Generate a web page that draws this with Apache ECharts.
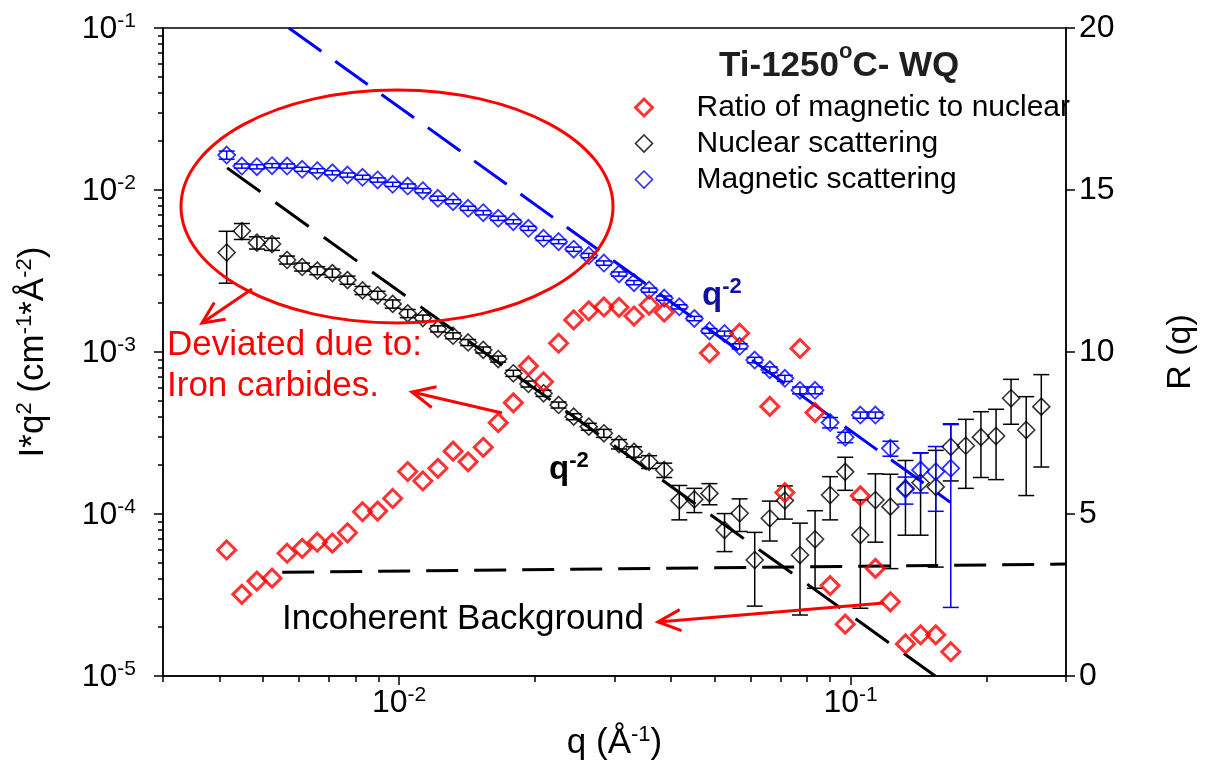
<!DOCTYPE html>
<html>
<head>
<meta charset="utf-8">
<script src="https://cdn.jsdelivr.net/npm/echarts@6/dist/echarts.min.js"></script>
<style>
  html, body { margin: 0; padding: 0; background: #fff; }
  #chart { width: 1207px; height: 762px; }
</style>
</head>
<body>
<div id="chart"></div>
<script>
// SANS data, Ti-1250C WQ: nuclear + magnetic I*q^2 (left, log) and their ratio R(q) (right)

// shared q grid (Å^-1)
const qValues = [0.004151, 0.004485, 0.004843, 0.005231, 0.005649, 0.006101, 0.006590, 0.007116, 0.007686, 0.008300,
  0.008965, 0.009679, 0.01045, 0.01129, 0.01219, 0.01317, 0.01422, 0.01536, 0.01658, 0.01791,
  0.01934, 0.02089, 0.02256, 0.02436, 0.02631, 0.02842, 0.03069, 0.03314, 0.03579, 0.03866,
  0.04175, 0.04508, 0.04869, 0.05258, 0.05679, 0.06133, 0.06623, 0.07153, 0.07725, 0.08343,
  0.09010, 0.09729, 0.1051, 0.1135, 0.1225, 0.1323, 0.1429, 0.1544, 0.1667, 0.1800,
  0.1944, 0.2100, 0.2267, 0.2449, 0.2645];

// ratio of magnetic to nuclear (right axis)
const ratioValues = [3.89, 2.52, 2.93, 3.02, 3.79, 3.94, 4.13, 4.10, 4.42, 5.07,
  5.09, 5.48, 6.31, 6.02, 6.41, 6.94, 6.61, 7.06, 7.82, 8.43,
  9.57, 9.08, 10.27, 10.99, 11.27, 11.39, 11.38, 11.11, 11.45, 11.23,
  null, null, 9.97, null, 10.58, null, 8.32, 5.66, 10.11, 8.13,
  2.79, 1.60, 5.56, 3.32, 2.29, 0.99, 1.27, 1.27, 0.75];

// nuclear scattering I*q^2 and its error
const nuclearValues = [4.11e-3, 5.58e-3, 4.73e-3, 4.64e-3, 3.70e-3, 3.35e-3, 3.18e-3, 3.07e-3, 2.78e-3, 2.40e-3,
  2.24e-3, 1.98e-3, 1.73e-3, 1.62e-3, 1.39e-3, 1.26e-3, 1.145e-3, 1.03e-3, 9.05e-4, 7.39e-4,
  6.35e-4, 5.56e-4, 4.71e-4, 3.99e-4, 3.46e-4, 3.15e-4, 2.70e-4, 2.42e-4, 2.10e-4, 1.87e-4,
  1.21e-4, 1.23e-4, 1.34e-4, 7.96e-5, 1.01e-4, 5.20e-5, 9.41e-5, 1.21e-4, 5.58e-5, 6.98e-5,
  1.31e-4, 1.82e-4, 7.42e-5, 1.22e-4, 1.11e-4, 1.44e-4, 1.56e-4, 1.47e-4, 2.60e-4, 2.64e-4,
  2.98e-4, 3.03e-4, 5.18e-4, 3.30e-4, 4.60e-4];
const nuclearErrors = [1.45e-3, 6.3e-4, 4.1e-4, 4.0e-4, 2.1e-4, 1.9e-4, 1.8e-4, 1.8e-4, 1.6e-4, 1.4e-4,
  1.3e-4, 1.15e-4, 1.0e-4, 7e-5, 6e-5, 5.4e-5, 4.9e-5, 4.4e-5, 3.9e-5, 3.2e-5,
  2.7e-5, 2.4e-5, 2.0e-5, 1.7e-5, 1.7e-5, 1.8e-5, 1.8e-5, 1.8e-5, 1.9e-5, 1.9e-5,
  2.9e-5, 2.1e-5, 2.0e-5, 2.1e-5, 2.3e-5, 2.5e-5, 2.6e-5, 2.8e-5, 3.2e-5, 3.5e-5,
  3.9e-5, 4.2e-5, 4.8e-5, 5.5e-5, 6.5e-5, 7.0e-5, 8.2e-5, 1.0e-4, 1.0e-4, 1.2e-4,
  1.3e-4, 1.4e-4, 1.6e-4, 2.0e-4, 2.65e-4];

// magnetic scattering I*q^2 and its error
const magneticValues = [1.644e-2, 1.406e-2, 1.392e-2, 1.413e-2, 1.406e-2, 1.342e-2, 1.315e-2, 1.278e-2, 1.237e-2, 1.198e-2,
  1.153e-2, 1.084e-2, 1.058e-2, 9.90e-3, 8.89e-3, 8.47e-3, 7.71e-3, 7.24e-3, 6.69e-3, 6.37e-3,
  5.80e-3, 5.03e-3, 4.80e-3, 4.31e-3, 3.94e-3, 3.54e-3, 3.03e-3, 2.68e-3, 2.41e-3, 2.15e-3,
  1.90e-3, 1.61e-3, 1.35e-3, 1.30e-3, 1.084e-3, 8.92e-4, 7.77e-4, 6.88e-4, 5.80e-4, 5.80e-4,
  3.67e-4, 2.975e-4, 4.08e-4, 4.08e-4, 2.544e-4, 1.421e-4, 1.869e-4, 1.824e-4, 1.915e-4];
const magneticErrors = [9.5e-4, 4.2e-4, 4.2e-4, 4.2e-4, 4.2e-4, 4.0e-4, 3.9e-4, 3.8e-4, 3.7e-4, 3.6e-4,
  3.5e-4, 3.3e-4, 3.2e-4, 3.0e-4, 2.7e-4, 2.5e-4, 2.3e-4, 2.2e-4, 2.0e-4, 1.9e-4,
  1.7e-4, 1.5e-4, 1.4e-4, 1.3e-4, 1.2e-4, 1.1e-4, 9e-5, 8e-5, 7e-5, 6.5e-5,
  5.7e-5, 5e-5, 4.5e-5, 4.5e-5, 4e-5, 3.5e-5, 3.2e-5, 3e-5, 2.8e-5, 2.8e-5,
  2.7e-5, 2.2e-5, 1.8e-5, 1.8e-5, 2.7e-5, 2.7e-5, 5.2e-5, 7.85e-5, 1.65e-4];

// guide lines: q^-2 slopes and incoherent background
const magneticSlope = [[0.0057, 0.1], [0.1664, 1.18e-4]];
const nuclearSlope = [[0.00416, 1.37e-2], [0.154, 1.0e-5]];
const backgroundLine = [[0.00551, 4.37e-5], [0.3, 4.91e-5]];

// ticks
const xMajorTicks = [0.01, 0.1];
const xMinorTicks = [0.003, 0.004, 0.005, 0.006, 0.007, 0.008, 0.009,
  0.02, 0.03, 0.04, 0.05, 0.06, 0.07, 0.08, 0.09, 0.2, 0.3];
const yMajorTicks = [1e-5, 1e-4, 1e-3, 1e-2, 1e-1];
const yMinorTicks = [2e-5, 3e-5, 4e-5, 5e-5, 6e-5, 7e-5, 8e-5, 9e-5,
  2e-4, 3e-4, 4e-4, 5e-4, 6e-4, 7e-4, 8e-4, 9e-4,
  2e-3, 3e-3, 4e-3, 5e-3, 6e-3, 7e-3, 8e-3, 9e-3,
  2e-2, 3e-2, 4e-2, 5e-2, 6e-2, 7e-2, 8e-2, 9e-2];

const FONT = '"Liberation Sans", Arial, sans-serif';

const ratioData = [], nuclearData = [], magneticData = [], nuclearBars = [], magneticBars = [];
qValues.forEach((q, i) => {
    if (ratioValues[i] != null) ratioData.push([q, ratioValues[i]]);
    if (nuclearValues[i] != null) {
        nuclearData.push([q, nuclearValues[i]]);
        nuclearBars.push([q, nuclearValues[i] - nuclearErrors[i], nuclearValues[i] + nuclearErrors[i]]);
    }
    if (magneticValues[i] != null) {
        magneticData.push([q, magneticValues[i]]);
        magneticBars.push([q, magneticValues[i] - magneticErrors[i], magneticValues[i] + magneticErrors[i]]);
    }
});

function errorBars(color) {
    return function (params, api) {
        const top = api.coord([api.value(0), api.value(2)]);
        const bot = api.coord([api.value(0), api.value(1)]);
        const half = 8;
        const style = { stroke: color, lineWidth: 1.5, fill: null };
        return {
            type: 'group',
            children: [
                { type: 'line', shape: { x1: top[0], y1: top[1], x2: bot[0], y2: bot[1] }, style: style },
                { type: 'line', shape: { x1: top[0] - half, y1: top[1], x2: top[0] + half, y2: top[1] }, style: style },
                { type: 'line', shape: { x1: bot[0] - half, y1: bot[1], x2: bot[0] + half, y2: bot[1] }, style: style }
            ]
        };
    };
}

// rich styles: base text + raised superscript
function supRich(base, sup, raise, extra) {
    return {
        b: Object.assign({ fontSize: base, fontFamily: FONT, verticalAlign: 'bottom' }, extra),
        s: Object.assign({ fontSize: sup, fontFamily: FONT, verticalAlign: 'bottom', padding: [0, 0, raise, 0] }, extra)
    };
}

const powerLabel = v => '{b|10}{s|' + Math.round(Math.log10(v)) + '}';
const tickRich = supRich(32, 21, 13, { color: '#000' });
const nameRich = supRich(35, 22, 15, { color: '#000' });
const axisLineStyle = { color: '#000', width: 1.5 };

const chart = echarts.init(document.getElementById('chart'));

const option = {
    animation: false,
    grid: {
        left: 163, right: 141, top: 28, bottom: 86,
        show: true, borderColor: '#000', borderWidth: 1.5,
        outerBoundsMode: 'none'
    },
    legend: {
        orient: 'vertical', left: 634, top: 92, padding: 0,
        itemWidth: 17, itemHeight: 17, itemGap: 5,
        selectedMode: false,
        textStyle: { fontSize: 30, fontFamily: FONT, color: '#000', lineHeight: 31, padding: [0, 0, 0, 39] },
        data: [
            { name: 'Ratio of magnetic to nuclear', icon: 'diamond', itemStyle: { color: 'transparent', borderColor: '#ff0000', borderWidth: 3 } },
            { name: 'Nuclear scattering', icon: 'diamond', itemStyle: { color: 'transparent', borderColor: '#000', borderWidth: 1.6 } },
            { name: 'Magnetic scattering', icon: 'diamond', itemStyle: { color: 'transparent', borderColor: '#0000ff', borderWidth: 1.6 } }
        ]
    },
    xAxis: [
        {
            type: 'log', logBase: 10, min: 0.003, max: 0.3, position: 'bottom',
            axisLine: { lineStyle: axisLineStyle },
            axisTick: { customValues: xMajorTicks, length: 9, lineStyle: axisLineStyle },
            axisLabel: { customValues: xMajorTicks, margin: 9, formatter: powerLabel, rich: tickRich },
            splitLine: { show: false },
            name: '{b|q (Å}{s|-1}{b|)}', nameLocation: 'middle', nameGap: 44,
            nameTextStyle: { rich: nameRich }
        },
        {
            type: 'log', logBase: 10, min: 0.003, max: 0.3, position: 'bottom',
            axisLine: { show: false },
            axisTick: { customValues: xMinorTicks, length: 6, lineStyle: axisLineStyle },
            axisLabel: { show: false },
            splitLine: { show: false }
        }
    ],
    yAxis: [
        {
            type: 'log', logBase: 10, min: 1e-5, max: 1e-1, position: 'left',
            axisLine: { show: true, lineStyle: axisLineStyle },
            axisTick: { show: true, customValues: yMajorTicks, length: 9, lineStyle: axisLineStyle },
            axisLabel: { customValues: yMajorTicks, margin: 27, formatter: powerLabel, rich: tickRich },
            splitLine: { show: false },
            name: '{b|I*q}{s|2}{b| (cm}{s|-1}{b|*Å}{s|-2}{b|)}',
            nameLocation: 'middle', nameRotate: 90, nameGap: 112,
            nameTextStyle: { rich: nameRich }
        },
        {
            type: 'log', logBase: 10, min: 1e-5, max: 1e-1, position: 'left',
            axisLine: { show: false },
            axisTick: { show: true, customValues: yMinorTicks, length: 5, lineStyle: axisLineStyle },
            axisLabel: { show: false },
            splitLine: { show: false }
        },
        {
            type: 'value', min: 0, max: 20, interval: 5, position: 'right',
            axisLine: { show: true, lineStyle: axisLineStyle },
            axisTick: { show: true, length: 9, lineStyle: axisLineStyle },
            axisLabel: { margin: 13, fontSize: 32, fontFamily: FONT, color: '#000' },
            splitLine: { show: false },
            name: 'R (q)', nameLocation: 'middle', nameRotate: 90, nameGap: 98,
            nameTextStyle: { fontSize: 34, fontFamily: FONT, color: '#000' }
        }
    ],
    series: [
        {
            type: 'custom', renderItem: errorBars('#000'), data: nuclearBars,
            encode: { x: 0, y: [1, 2] }, clip: true, silent: true, z: 2
        },
        {
            type: 'custom', renderItem: errorBars('#0000ff'), data: magneticBars,
            encode: { x: 0, y: [1, 2] }, clip: true, silent: true, z: 2
        },
        {
            type: 'line', data: magneticSlope, symbol: 'none', clip: true, silent: true, z: 3,
            lineStyle: { color: '#0000ff', width: 3, type: [40, 17] }
        },
        {
            type: 'line', data: nuclearSlope, symbol: 'none', clip: true, silent: true, z: 3,
            lineStyle: { color: '#000', width: 3, type: [41, 18.5] }
        },
        {
            type: 'line', data: backgroundLine, symbol: 'none', clip: true, silent: true, z: 3,
            lineStyle: { color: '#000', width: 3, type: [32, 16] }
        },
        {
            name: 'Nuclear scattering', type: 'scatter', data: nuclearData,
            symbol: 'diamond', symbolSize: 17, silent: true, z: 4,
            itemStyle: { color: 'transparent', borderColor: '#000', borderWidth: 1.6 }
        },
        {
            name: 'Magnetic scattering', type: 'scatter', data: magneticData,
            symbol: 'diamond', symbolSize: 17, silent: true, z: 4,
            itemStyle: { color: 'transparent', borderColor: '#0000ff', borderWidth: 1.8 }
        },
        {
            name: 'Ratio of magnetic to nuclear', type: 'scatter', yAxisIndex: 2, data: ratioData,
            symbol: 'diamond', symbolSize: 18, silent: true, z: 5,
            itemStyle: { color: 'transparent', borderColor: '#ff0000', borderWidth: 3 }
        }
    ],
    graphic: {
        elements: [
            {
                type: 'text', x: 719, y: 62, z: 10,
                style: {
                    text: '{b|Ti-1250}{s|o}{b|C- WQ}', align: 'left', verticalAlign: 'middle',
                    rich: supRich(35, 22, 21, { fontWeight: 'bold', fill: '#1f1f1f' })
                }
            },
            {
                type: 'ellipse', z: 10,
                shape: { cx: 397, cy: 206.5, rx: 216, ry: 116.5 },
                style: { fill: 'none', stroke: '#ff0000', lineWidth: 3 }
            },
            // arrow from ellipse
            { type: 'polyline', z: 10, shape: { points: [[252, 289], [202, 323]] }, style: { stroke: '#ff0000', lineWidth: 3, fill: 'none' } },
            { type: 'polyline', z: 10, shape: { points: [[225.7, 319.2], [202, 323], [214.3, 302.4]] }, style: { stroke: '#ff0000', lineWidth: 3, fill: 'none' } },
            // arrow to "Iron carbides."
            { type: 'polyline', z: 10, shape: { points: [[502, 413], [412, 392]] }, style: { stroke: '#ff0000', lineWidth: 3, fill: 'none' } },
            { type: 'polyline', z: 10, shape: { points: [[431.7, 407.5], [412, 392], [436.5, 386.8]] }, style: { stroke: '#ff0000', lineWidth: 3, fill: 'none' } },
            // arrow to "Incoherent Background"
            { type: 'polyline', z: 10, shape: { points: [[884, 603], [658, 622]] }, style: { stroke: '#ff0000', lineWidth: 3, fill: 'none' } },
            { type: 'polyline', z: 10, shape: { points: [[681.5, 630.7], [658, 622], [679.7, 609.6]] }, style: { stroke: '#ff0000', lineWidth: 3, fill: 'none' } },
            {
                type: 'text', x: 167, y: 345, z: 10,
                style: { text: 'Deviated due to:', font: '35px ' + FONT, fill: '#ff0000', align: 'left', verticalAlign: 'middle' }
            },
            {
                type: 'text', x: 167, y: 386, z: 10,
                style: { text: 'Iron carbides.', font: '35px ' + FONT, fill: '#ff0000', align: 'left', verticalAlign: 'middle' }
            },
            {
                type: 'text', x: 282, y: 619, z: 10,
                style: { text: 'Incoherent Background', font: '35px ' + FONT, fill: '#000', align: 'left', verticalAlign: 'middle' }
            },
            {
                type: 'text', x: 702, y: 294, z: 10,
                style: {
                    text: '{b|q}{s|-2}', align: 'left', verticalAlign: 'middle',
                    rich: supRich(33, 22, 14, { fontWeight: 'bold', fill: '#1010a0' })
                }
            },
            {
                type: 'text', x: 549, y: 468, z: 10,
                style: {
                    text: '{b|q}{s|-2}', align: 'left', verticalAlign: 'middle',
                    rich: supRich(33, 22, 14, { fontWeight: 'bold', fill: '#000' })
                }
            }
        ]
    }
};

chart.setOption(option);
window.addEventListener('resize', () => chart.resize());
</script>
</body>
</html>
